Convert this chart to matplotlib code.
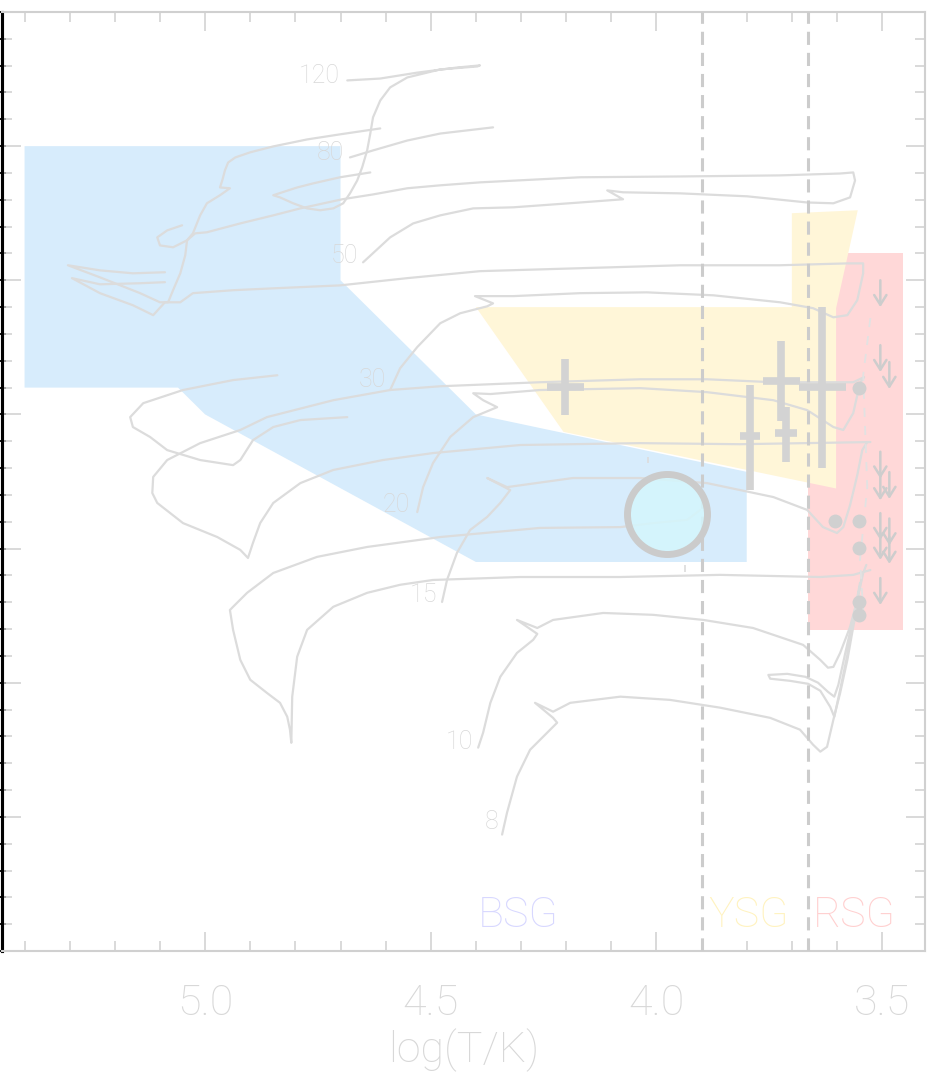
import matplotlib
matplotlib.use("Agg")
import matplotlib.pyplot as plt
from matplotlib.patches import Polygon, Rectangle
from matplotlib.ticker import MultipleLocator
from matplotlib.colors import to_rgba

plt.rcParams["font.family"] = ["Roboto", "DejaVu Sans"]
plt.rcParams["font.weight"] = "light"
plt.rcParams["axes.labelweight"] = "light"

# ---------------- evolutionary tracks: log T_eff, log L/Lsun ----------------
track_120_logT = [4.685, 4.612, 4.530, 4.442, 4.391, 4.397, 4.479, 4.552, 4.590, 4.612,
                  4.628, 4.634, 4.641, 4.652, 4.663, 4.679, 4.694, 4.716, 4.745, 4.774,
                  4.805, 4.834, 4.849, 4.796, 4.761, 4.701, 4.634]
track_120_logL = [6.245, 6.252, 6.274, 6.293, 6.301, 6.297, 6.286, 6.256, 6.219, 6.170,
                  6.107, 6.047, 5.984, 5.921, 5.872, 5.824, 5.787, 5.768, 5.761, 5.768,
                  5.787, 5.809, 5.817, 5.846, 5.861, 5.884, 5.902]

track_80_ms_logT = [4.679, 4.628, 4.552, 4.479, 4.362]
track_80_ms_logL = [5.958, 5.984, 6.021, 6.047, 6.070]
track_80_wr_logT = [4.612, 4.701, 4.774, 4.849, 4.900, 4.933, 4.949, 4.956, 4.962, 4.967,
                    4.945, 4.967, 4.996, 5.011, 5.027, 5.040, 5.071, 5.100, 5.106, 5.084, 5.051]
track_80_wr_logL = [6.066, 6.044, 6.025, 5.999, 5.977, 5.958, 5.939, 5.910, 5.872, 5.846,
                    5.843, 5.817, 5.787, 5.742, 5.675, 5.649, 5.623, 5.630, 5.660, 5.686, 5.705]

track_50_logT = [4.650, 4.628, 4.590, 4.539, 4.479, 4.406, 4.317, 4.169, 4.074, 4.109,
                 4.074, 3.947, 3.799, 3.666, 3.608, 3.571, 3.560, 3.564, 3.593, 3.726,
                 3.947, 4.169, 4.391, 4.479, 4.552, 4.628, 4.696, 4.789, 4.849, 4.922,
                 4.996, 5.022, 5.040, 5.044, 5.055, 5.071, 5.082, 5.100, 5.144, 5.233,
                 5.304, 5.233, 5.160, 5.089]
track_50_logL = [5.567, 5.601, 5.660, 5.712, 5.742, 5.768, 5.772, 5.790, 5.802, 5.835,
                 5.828, 5.824, 5.813, 5.790, 5.787, 5.809, 5.872, 5.902, 5.898, 5.891,
                 5.887, 5.884, 5.865, 5.854, 5.843, 5.820, 5.802, 5.768, 5.742, 5.712,
                 5.679, 5.675, 5.649, 5.593, 5.526, 5.463, 5.418, 5.418, 5.452, 5.511,
                 5.556, 5.537, 5.526, 5.530]

track_30_logT = [4.590, 4.568, 4.530, 4.479, 4.435, 4.375, 4.362, 4.402, 4.317, 4.169,
                 4.021, 3.874, 3.726, 3.653, 3.608, 3.577, 3.555, 3.542, 3.542, 3.577,
                 3.726, 3.947, 4.169, 4.391, 4.552, 4.701, 4.849, 4.938, 5.027, 5.055,
                 5.089, 5.115, 5.160, 5.233, 5.295, 5.233, 5.144, 5.089]
track_30_logL = [5.091, 5.172, 5.251, 5.340, 5.377, 5.403, 5.414, 5.441, 5.441, 5.452,
                 5.455, 5.444, 5.418, 5.396, 5.362, 5.370, 5.426, 5.526, 5.563, 5.563,
                 5.556, 5.556, 5.545, 5.534, 5.508, 5.481, 5.470, 5.463, 5.452, 5.418,
                 5.418, 5.370, 5.407, 5.452, 5.508, 5.485, 5.489, 5.493]

track_25_loop_logT = [4.840, 4.938, 5.049, 5.137, 5.166, 5.160, 5.122, 5.084, 5.011, 4.938,
                      4.922, 4.894, 4.849, 4.789, 4.685]
track_25_loop_logL = [5.146, 5.128, 5.091, 5.042, 4.990, 4.953, 4.916, 4.867, 4.830, 4.811,
                      4.830, 4.904, 4.953, 4.979, 4.990]

track_20_logT = [4.530, 4.517, 4.495, 4.457, 4.406, 4.353, 4.384, 4.406, 4.368, 4.258,
                 4.036, 3.888, 3.741, 3.666, 3.608, 3.586, 3.564, 3.549, 3.540, 3.564,
                 3.741, 3.888, 4.036, 4.258, 4.479, 4.590, 4.716, 4.863, 4.922, 5.011,
                 5.084, 5.115, 5.117, 5.106, 5.049, 4.973, 4.922, 4.905, 4.894, 4.878,
                 4.849, 4.789, 4.716, 4.606, 4.495, 4.302, 4.036, 3.815, 3.526]
track_20_logL = [4.636, 4.729, 4.819, 4.916, 4.990, 5.027, 5.053, 5.079, 5.076, 5.091,
                 5.098, 5.083, 5.053, 5.016, 4.953, 4.942, 5.005, 5.117, 5.139, 5.120,
                 5.120, 5.131, 5.131, 5.120, 5.105, 5.091, 5.053, 4.990, 4.942, 4.893,
                 4.830, 4.767, 4.707, 4.670, 4.595, 4.543, 4.495, 4.465, 4.521, 4.595,
                 4.670, 4.744, 4.793, 4.830, 4.856, 4.886, 4.893, 4.889, 4.897]

track_15_logT = [4.475, 4.464, 4.442, 4.413, 4.375, 4.346, 4.324, 4.375, 4.331, 4.185,
                 4.036, 3.888, 3.741, 3.666, 3.631, 3.600, 3.586, 3.571, 3.555, 3.544, 3.533]
track_15_logL = [4.301, 4.383, 4.484, 4.569, 4.618, 4.670, 4.718, 4.763, 4.729, 4.763,
                 4.763, 4.744, 4.692, 4.644, 4.580, 4.558, 4.580, 4.662, 4.774, 4.867, 4.897]

track_12_logT = [3.903, 3.932, 4.007, 4.080, 4.258, 4.479, 4.641, 4.752, 4.849, 4.907,
                 4.938, 4.945, 4.938, 4.922, 4.900, 4.863, 4.834, 4.818, 4.812, 4.809,
                 4.807, 4.796, 4.774, 4.716, 4.641, 4.568, 4.495, 4.302, 4.080, 3.859,
                 3.637, 3.564, 3.526]
track_12_logL = [4.644, 4.607, 4.595, 4.580, 4.577, 4.543, 4.506, 4.469, 4.409, 4.335,
                 4.283, 4.271, 4.197, 4.085, 4.011, 3.962, 3.925, 3.873, 3.825, 3.776,
                 3.948, 4.097, 4.197, 4.283, 4.335, 4.365, 4.383, 4.394, 4.394, 4.402,
                 4.394, 4.402, 4.420]

track_10_logT = [4.395, 4.384, 4.368, 4.346, 4.309, 4.273, 4.264, 4.309, 4.264, 4.229,
                 4.118, 4.007, 3.896, 3.786, 3.675, 3.637, 3.620, 3.608, 3.593, 3.571,
                 3.555, 3.542, 3.535]
track_10_logL = [3.758, 3.814, 3.925, 4.022, 4.111, 4.160, 4.182, 4.234, 4.204, 4.234,
                 4.260, 4.253, 4.234, 4.204, 4.141, 4.085, 4.056, 4.059, 4.111, 4.208,
                 4.309, 4.409, 4.439]
track_10_loop_logT = [3.544, 3.560, 3.580, 3.597, 3.606, 3.620, 3.642, 3.670, 3.710, 3.752,
                      3.748, 3.704, 3.664, 3.637, 3.615, 3.606, 3.593, 3.577, 3.562, 3.549]
track_10_loop_logL = [4.402, 4.271, 4.123, 3.992, 3.948, 3.966, 4.000, 4.022, 4.033, 4.029,
                      4.015, 4.007, 3.996, 3.970, 3.910, 3.873, 3.974, 4.104, 4.253, 4.372]

track_8_logT = [4.342, 4.331, 4.309, 4.280, 4.242, 4.220, 4.229, 4.269, 4.229, 4.191,
                4.080, 3.970, 3.859, 3.748, 3.682, 3.653, 3.637, 3.622, 3.608, 3.593,
                3.577, 3.564, 3.553]
track_8_logL = [3.434, 3.516, 3.650, 3.750, 3.814, 3.851, 3.869, 3.925, 3.892, 3.925,
                3.948, 3.936, 3.907, 3.869, 3.825, 3.769, 3.743, 3.761, 3.862, 3.962,
                4.085, 4.208, 4.309]

rsg_edge_logT = [3.526, 3.542, 3.533, 3.549, 3.542]
rsg_edge_logL = [5.359, 5.146, 4.729, 4.458, 4.271]

mark_logT = [4.018, 3.936]
mark_logL_lo = [4.818, 4.413]
mark_logL_hi = [4.841, 4.439]

# track labels (initial mass, Msun)
mass_labels = ["120", "80", "50", "30", "20", "15", "10", "8"]
mass_label_logT = [4.701, 4.692, 4.661, 4.599, 4.546, 4.486, 4.406, 4.351]
mass_label_logL = [6.237, 5.947, 5.564, 5.103, 4.637, 4.299, 3.753, 3.455]

# ---------------- supergiant regions ----------------
bsg_region_logT = [5.40, 4.70, 4.70, 4.40, 3.80, 3.80, 4.40, 5.00, 5.06, 5.40]
bsg_region_logL = [6.00, 6.00, 5.50, 5.00, 4.786, 4.45, 4.45, 5.00, 5.10, 5.10]
ysg_region_logT = [4.40, 3.70, 3.70, 3.554, 3.602, 3.602, 4.206]
ysg_region_logL = [5.40, 5.40, 5.75, 5.761, 5.396, 4.724, 4.935]
rsg_region_logT = [3.665, 3.453]
rsg_region_logL = [4.197, 5.601]

boundary_logT = [3.90, 3.665]
class_names = ["BSG", "YSG", "RSG"]
class_name_logT = [4.397, 3.885, 3.653]
class_name_logL = [3.091, 3.091, 3.091]

# ---------------- observed stars ----------------
star_logT = [4.202, 3.792, 3.724, 3.713, 3.633]
star_logL = [5.103, 4.920, 5.125, 4.929, 5.101]
star_logT_err = [0.041, 0.022, 0.041, 0.025, 0.052]
star_logL_err_lo = [0.106, 0.20, 0.15, 0.105, 0.30]
star_logL_err_hi = [0.103, 0.19, 0.15, 0.10, 0.30]

rsg_logT = [3.552, 3.604, 3.552, 3.552, 3.552, 3.552]
rsg_logL = [5.097, 4.603, 4.603, 4.501, 4.302, 4.253]

limit_logT = [3.504, 3.504, 3.504, 3.504, 3.504, 3.504, 3.504, 3.484, 3.484, 3.484, 3.484]
limit_logL = [5.500, 5.258, 4.861, 4.780, 4.632, 4.558, 4.390, 5.195, 4.785, 4.612, 4.543]
limit_drop = 0.1

target_logT = 3.977
target_logL = 4.628

# ---------------- drawing ----------------
TRACK = "#dcdcdc"
AXIS = "#d0d0d0"
TEXT = "#d8d8d8"

fig = plt.figure(figsize=(9.34, 10.86), dpi=100)
ax = fig.add_axes([2 / 934, 135 / 1086, 923 / 934, 939 / 1086])
ax.set_xlim(5.45, 3.405)
ax.set_ylim(3.0, 6.5)

ax.add_patch(Rectangle((rsg_region_logT[1], rsg_region_logL[0]),
                       rsg_region_logT[0] - rsg_region_logT[1],
                       rsg_region_logL[1] - rsg_region_logL[0],
                       fc="#ffd8d8", ec="none", zorder=1))
ax.add_patch(Polygon(list(zip(bsg_region_logT, bsg_region_logL)), closed=True,
                     fc="#d7ecfc", ec="none", zorder=1))
ax.add_patch(Polygon(list(zip(ysg_region_logT, ysg_region_logL)), closed=True,
                     fc="#fff6d8", ec="none", zorder=1))

tracks = [
    (track_120_logT, track_120_logL),
    (track_80_ms_logT, track_80_ms_logL),
    (track_80_wr_logT, track_80_wr_logL),
    (track_50_logT, track_50_logL),
    (track_30_logT, track_30_logL),
    (track_25_loop_logT, track_25_loop_logL),
    (track_20_logT, track_20_logL),
    (track_15_logT, track_15_logL),
    (track_12_logT, track_12_logL),
    (track_10_logT, track_10_logL),
    (track_10_loop_logT, track_10_loop_logL),
    (track_8_logT, track_8_logL),
]
for tx, ty in tracks:
    ax.plot(tx, ty, color=TRACK, lw=1.6, solid_joinstyle="round",
            solid_capstyle="round", zorder=2)
ax.plot(rsg_edge_logT, rsg_edge_logL, color="#e2e2e2", lw=1.3, dashes=(5, 5), zorder=2)
ax.vlines(mark_logT, mark_logL_lo, mark_logL_hi, color=TRACK, lw=1.2, zorder=2)

for lab, lt, ll in zip(mass_labels, mass_label_logT, mass_label_logL):
    ax.text(lt, ll, lab, ha="right", va="baseline", fontsize=18, color=TEXT,
            fontweight="light", zorder=2.5)

for bt in boundary_logT:
    ax.axvline(bt, color="#cccccc", lw=2.2, dashes=(4.3, 2.6), zorder=3)

ax.errorbar(star_logT, star_logL, xerr=star_logT_err,
            yerr=[star_logL_err_lo, star_logL_err_hi], fmt="none",
            ecolor="#d3d3d3", elinewidth=5.5, capsize=0, zorder=4)
ax.plot(rsg_logT, rsg_logL, "o", ms=10, color="#d0d0d0", mec="none", zorder=4)
for lt, ll in zip(limit_logT, limit_logL):
    ax.annotate("", xy=(lt, ll - limit_drop), xytext=(lt, ll),
                arrowprops=dict(arrowstyle="->,head_length=0.35,head_width=0.22",
                                color="#cdcdcd", lw=1.8, shrinkA=0, shrinkB=0,
                                mutation_scale=20),
                zorder=4)

ax.plot(target_logT, target_logL, "o", ms=57.6, mfc=to_rgba("#d4f6fd", 0.85),
        mec="#cbcbcb", mew=5, zorder=5)

class_colors = ["#d8d8ff", "#fff3c0", "#ffd0d0"]
for name, lt, ll, c in zip(class_names, class_name_logT, class_name_logL, class_colors):
    ax.text(lt, ll, name, ha="left", va="baseline", fontsize=31, color=c,
            fontweight="light", zorder=6)

# axes frame and ticks
ax.xaxis.set_major_locator(MultipleLocator(0.5))
ax.xaxis.set_minor_locator(MultipleLocator(0.1))
ax.yaxis.set_major_locator(MultipleLocator(0.5))
ax.yaxis.set_minor_locator(MultipleLocator(0.1))
ax.tick_params(which="both", direction="in", top=True, right=True, left=True, bottom=True,
               color=AXIS, width=1.1, labelleft=False, labelcolor=TEXT, labelsize=31, pad=23)
ax.tick_params(which="major", length=14)
ax.tick_params(which="minor", length=7)
for side in ["top", "right", "bottom"]:
    ax.spines[side].set_color(AXIS)
    ax.spines[side].set_linewidth(1.5)
ax.spines["left"].set_color("black")
ax.spines["left"].set_linewidth(2.2)

sec = ax.secondary_yaxis("left")
sec.yaxis.set_major_locator(MultipleLocator(0.1))
sec.tick_params(axis="y", direction="inout", length=6, width=1.3, color="black",
                labelleft=False)
sec.spines["left"].set_color("black")
sec.spines["left"].set_linewidth(2.2)

ax.set_xlabel("log(T/K)", fontsize=31, color=TEXT, fontweight="light", labelpad=3)

fig.savefig("out.png", dpi=100)
